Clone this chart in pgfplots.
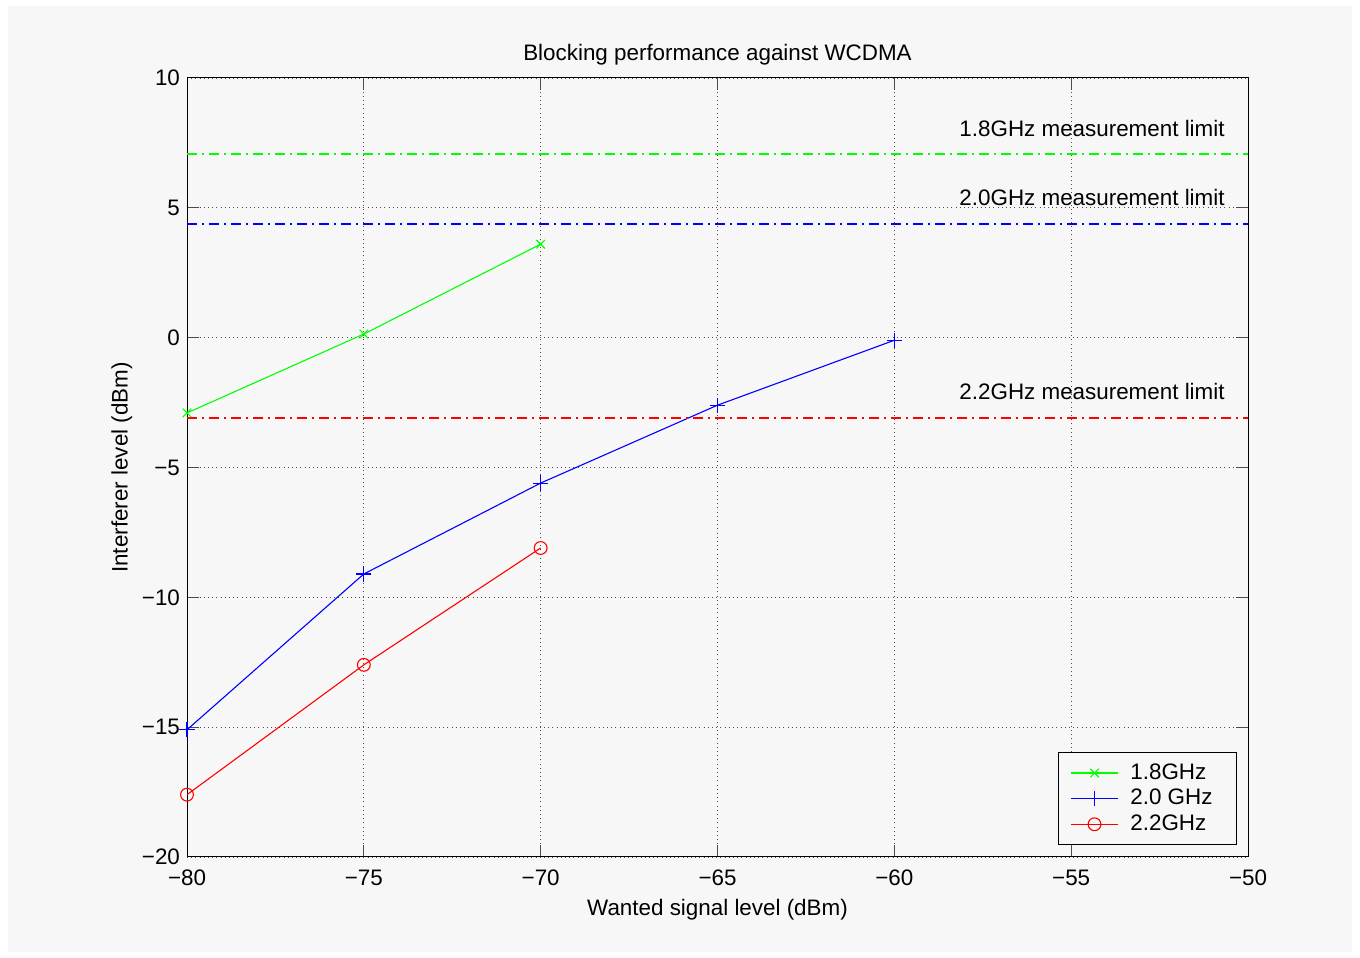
\documentclass[border=0pt]{standalone}
\usepackage{pgfplots}
\pgfplotsset{compat=1.18}
\usepackage{fontspec}
\setmainfont{Liberation Sans}
\definecolor{bg}{HTML}{F7F7F7}
\definecolor{mg}{rgb}{0,1,0}
\definecolor{mb}{rgb}{0,0,1}
\definecolor{mr}{rgb}{1,0,0}
\begin{document}
\begin{tikzpicture}[x=0.5pt,y=0.5pt]
\fill[white] (0,0) rectangle (1360,958);
\fill[bg] (8,6) rectangle (1352,952);
\begin{axis}[
  at={(93.5pt,50.5pt)}, anchor=south west,
  scale only axis, width=530.5pt, height=389.5pt,
  xmin=-80, xmax=-50, ymin=-20, ymax=10,
  xtick={-80,-75,...,-50}, ytick={-20,-15,...,10},
  xticklabels={−80,−75,−70,−65,−60,−55,−50},
  yticklabels={−20,−15,−10,−5,0,5,10},
  tick align=inside, major tick length=6pt,
  tick style={black!70, line width=0.5pt},
  axis line style={black, line width=0.5pt},
  grid=major,
  major grid style={black!70, line width=0.4pt, dash pattern=on 0.5pt off 1.6pt},
  axis background/.style={fill=bg},
  font=\fontsize{11.2}{13}\selectfont,
  ticklabel style={font=\fontsize{11.2}{13}\selectfont},
  xticklabel style={yshift=-3pt},
  title={Blocking performance against WCDMA},
  title style={at={(0.5,1)}, anchor=south, yshift=-3pt},
  xlabel={Wanted signal level (dBm)},
  ylabel={Interferer level (dBm)},
  xlabel style={yshift=0pt},
  ylabel style={yshift=-2pt},
  legend style={at={(rel axis cs:0.9896,0.0154)}, anchor=south east,
    draw=black, fill=bg, font=\fontsize{11.2}{13}\selectfont,
    row sep=-0.5pt, inner xsep=6pt, inner ysep=3.5pt,
    nodes={inner xsep=6pt}},
  legend cell align=left,
  legend image code/.code={%
    \draw[mark repeat=2,mark phase=2,#1] plot coordinates {(0cm,0cm) (0.41cm,0cm) (0.82cm,0cm)};},
]
\addplot[mg, line width=0.55pt, mark=x, mark size=3pt] coordinates {(-80,-2.9) (-75,0.14) (-70,3.6)};
\addlegendentry{1.8GHz}
\addplot[mb, line width=0.55pt, mark=+, mark size=3.8pt] coordinates {(-80,-15.1) (-75,-9.1) (-70,-5.6) (-65,-2.6) (-60,-0.1)};
\addlegendentry{2.0 GHz}
\addplot[mr, line width=0.55pt, mark=o, mark size=3.2pt] coordinates {(-80,-17.6) (-75,-12.6) (-70,-8.1)};
\addlegendentry{2.2GHz}
\addplot[mg, line width=0.6pt, dash pattern=on 5pt off 2.5pt on 1pt off 2.5pt, forget plot] coordinates {(-80,7.07) (-50,7.07)};
\addplot[mb, line width=0.6pt, dash pattern=on 5pt off 2.5pt on 1pt off 2.5pt, forget plot] coordinates {(-80,4.38) (-50,4.38)};
\addplot[mr, line width=0.6pt, dash pattern=on 5pt off 2.5pt on 1pt off 2.5pt, forget plot] coordinates {(-80,-3.09) (-50,-3.09)};
\node[anchor=east, inner sep=0pt] at (axis cs:-50.65,8.07) {1.8GHz measurement limit};
\node[anchor=east, inner sep=0pt] at (axis cs:-50.65,5.38) {2.0GHz measurement limit};
\node[anchor=east, inner sep=0pt] at (axis cs:-50.65,-2.09) {2.2GHz measurement limit};
\end{axis}
\end{tikzpicture}
\end{document}
